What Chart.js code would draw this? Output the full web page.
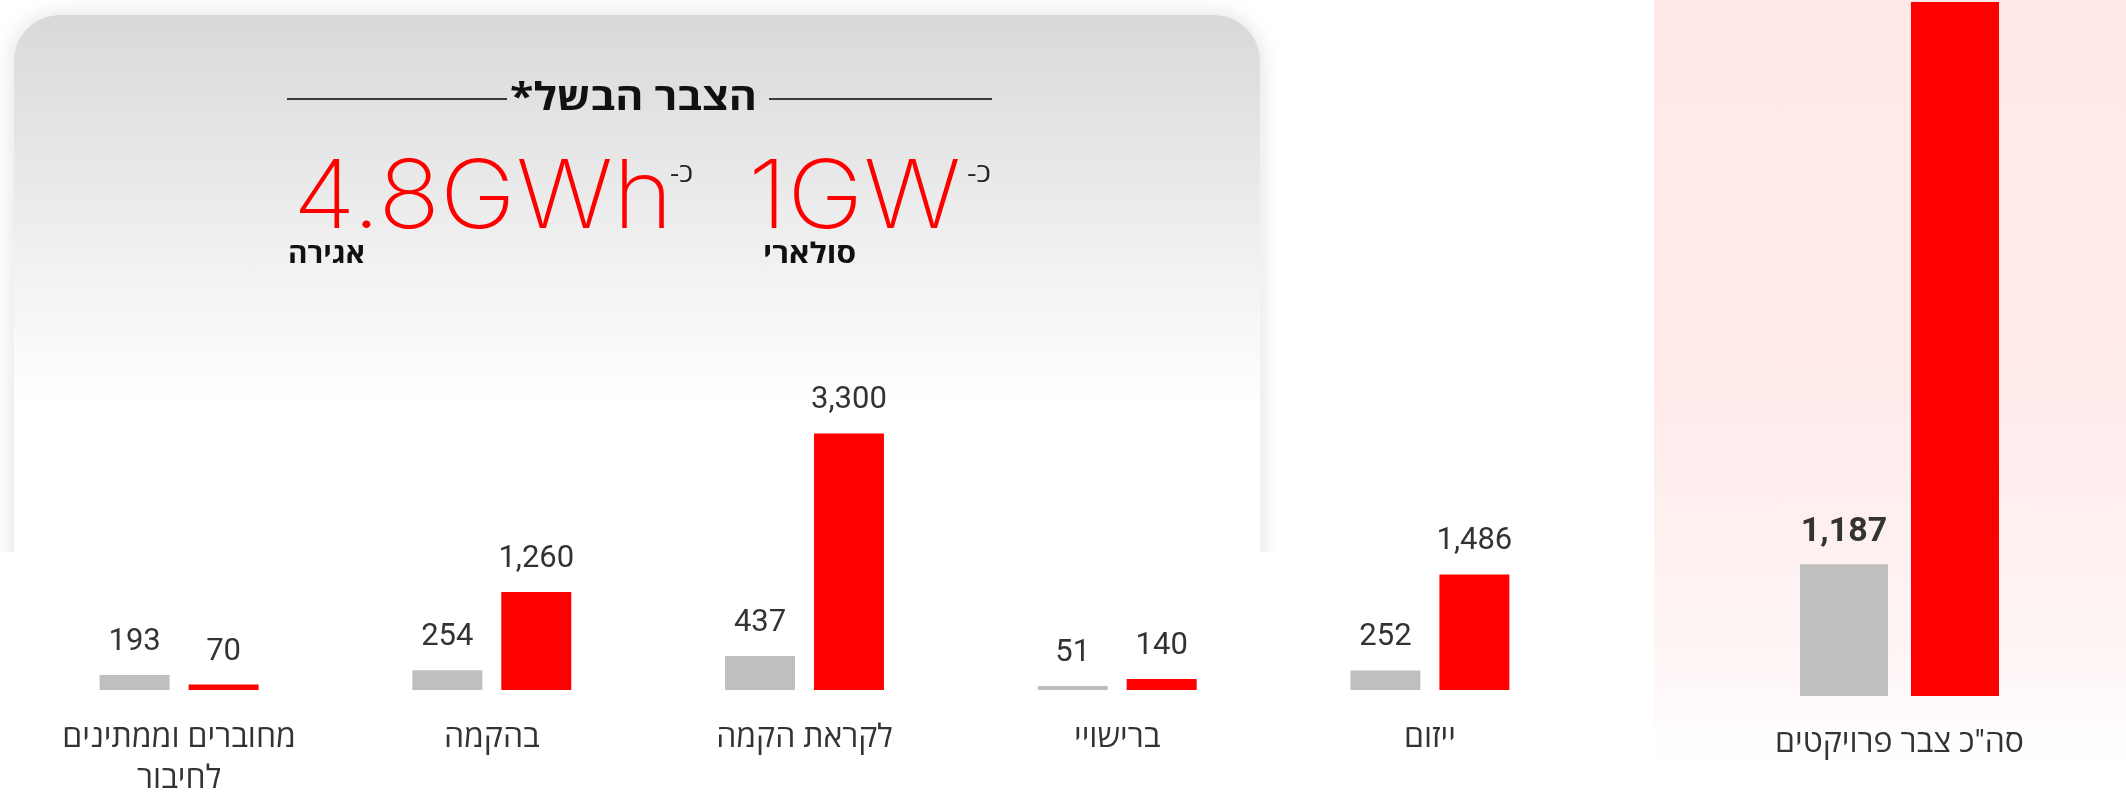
<!DOCTYPE html>
<html lang="he">
<head>
<meta charset="utf-8">
<script src="https://cdn.jsdelivr.net/npm/chart.js@4.4.1/dist/chart.umd.min.js"></script>
<style>
html,body{margin:0;padding:0;width:2126px;height:795px;overflow:hidden;background:#fff;}
.abs{position:absolute;}
#cardClip{left:0;top:0;width:1320px;height:552px;overflow:hidden;}
#card{left:14px;top:15px;width:1246px;height:640px;border-radius:46px 46px 0 0;background:linear-gradient(#d9d9d9 0px,#ffffff 390px);box-shadow:0 0 22px rgba(0,0,0,0.13);}
#pink{left:1654px;top:0;width:472px;height:765px;background:linear-gradient(#ffe8e8 0%,#ffeaea 50%,#fff5f5 85%,#ffffff 100%);}
canvas{position:absolute;top:0;}
#c1{left:0;}
#c2{left:1654px;}
.line{height:1.5px;background:#3a3a3a;top:98px;}
.he{font-family:'Open Sans','Liberation Sans',sans-serif;direction:rtl;white-space:nowrap;line-height:1;}
.big{font-family:Inter,Lato,sans-serif;font-weight:200;color:#ff0000;font-size:95px;line-height:1;white-space:nowrap;}
.sup{font-family:'Open Sans','Liberation Sans',sans-serif;font-size:26px;color:#222;line-height:1;white-space:nowrap;direction:rtl;}
</style>
</head>
<body>
<div id="cardClip" class="abs"><div id="card" class="abs"></div></div>
<div id="pink" class="abs"></div>
<canvas id="c1" width="1640" height="795"></canvas>
<canvas id="c2" width="472" height="795"></canvas>

<div class="abs line" style="left:287px;width:220px;"></div>
<div class="abs line" style="left:769px;width:223px;"></div>
<div class="abs he fit" data-w="247" style="left:510px;top:76px;font-size:38px;font-weight:700;color:#111;">הצבר הבשל*</div>

<div class="abs big fit" data-w="380" style="left:293px;top:146px;">4.8GWh</div>
<div class="abs big fit" data-w="213" style="left:748px;top:146px;">1GW</div>
<div class="abs sup fit" data-w="23" style="left:670px;top:159px;">כ-</div>
<div class="abs sup fit" data-w="24" style="left:967px;top:159px;">כ-</div>
<div class="abs he fit" data-w="77" style="left:288px;top:238px;font-size:28px;font-weight:700;color:#111;">אגירה</div>
<div class="abs he fit" data-w="93" style="left:763px;top:238px;font-size:28px;font-weight:700;color:#111;">סולארי</div>

<script>
// ---- data ----
const stages = [['מחוברים וממתינים', 'לחיבור'], 'בהקמה', 'לקראת הקמה', 'ברישויי', 'ייזום'];
const solarMW = [193, 254, 437, 51, 252];
const storageMWh = [70, 1260, 3300, 140, 1486];
const totalCategory = ['סה"כ צבר פרויקטים'];
const totalSolarMW = [1187];
const totalStorageMWh = [6256];
const seriesNames = ['סולארי (MW)', 'אגירה (MWh)'];
const seriesColors = ['#bfbfbf', '#ff0000'];

const valueLabels = {
  id: 'valueLabels',
  afterDatasetsDraw(chart, args, opts) {
    const ctx = chart.ctx;
    ctx.save();
    ctx.font = opts.font;
    ctx.fillStyle = opts.color;
    ctx.textAlign = 'center';
    ctx.textBaseline = 'alphabetic';
    chart.data.datasets.forEach((ds, i) => {
      const meta = chart.getDatasetMeta(i);
      meta.data.forEach((bar, j) => {
        ctx.fillText(ds.data[j].toLocaleString('en-US'), bar.x, bar.y - opts.offset);
      });
    });
    ctx.restore();
  }
};

function makeChart(id, labels, d1, d2, o) {
  const ds = (k, data) => ({
    label: seriesNames[k], data, backgroundColor: seriesColors[k], borderWidth: 0,
    categoryPercentage: o.cat, barPercentage: o.bar
  });
  return new Chart(document.getElementById(id), {
    type: 'bar',
    data: { labels, datasets: [ds(0, d1), ds(1, d2)] },
    options: {
      responsive: false, animation: false, events: [],
      layout: { padding: o.padding },
      plugins: {
        legend: { display: false }, tooltip: { enabled: false },
        valueLabels: { font: o.valueFont, color: '#333333', offset: o.offset }
      },
      scales: {
        x: {
          grid: { display: false, drawTicks: false }, border: { display: false },
          ticks: {
            padding: o.tickPad, color: '#333333', maxRotation: 0, autoSkip: false,
            font: { family: "Roboto, 'Open Sans', 'Liberation Sans', sans-serif", size: 32, lineHeight: '41px' }
          },
          afterFit(s) { s.height = o.axisH; }
        },
        y: { display: false, min: 0, max: o.max }
      }
    },
    plugins: [valueLabels]
  });
}

makeChart('c1', stages, solarMW, storageMWh, {
  cat: 0.569, bar: 0.7865, padding: { left: 22.75, right: 53.75, top: 68, bottom: 0 },
  axisH: 105, tickPad: 28, max: 8000, valueFont: '31px Roboto', offset: 25
});
makeChart('c2', totalCategory, totalSolarMW, totalStorageMWh, {
  cat: 0.49, bar: 0.793, padding: { left: 19, right: 0, top: 0, bottom: 0 },
  axisH: 99, tickPad: 27, max: 6274, valueFont: 'bold 34px Roboto', offset: 23
});

document.querySelectorAll('.fit').forEach(el => {
  const w = el.getBoundingClientRect().width;
  const t = parseFloat(el.dataset.w);
  el.style.transformOrigin = 'left top';
  el.style.transform = 'scaleX(' + (t / w) + ')';
});
</script>
</body>
</html>
